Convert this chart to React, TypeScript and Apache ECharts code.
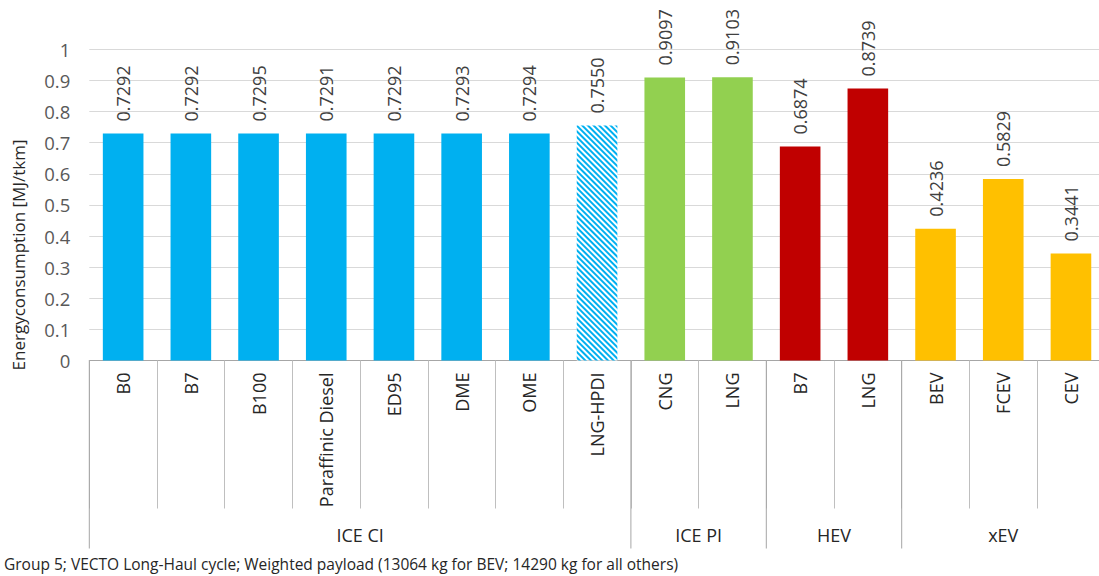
import React, { useEffect, useRef } from "react";
import * as echarts from "echarts";

const categories = [
  "B0", "B7", "B100", "Paraffinic Diesel", "ED95", "DME", "OME", "LNG-HPDI",
  "CNG", "LNG", "B7", "LNG", "BEV", "FCEV", "CEV",
];
const values = [
  0.7292, 0.7292, 0.7295, 0.7291, 0.7292, 0.7293, 0.7294, 0.755,
  0.9097, 0.9103, 0.6874, 0.8739, 0.4236, 0.5829, 0.3441,
];
const groupNames = ["ICE CI", "ICE PI", "HEV", "xEV"];
const groupStart = [0, 8, 10, 12];
const groupEnd = [7, 9, 11, 14];
const groupColors = ["#00B0F0", "#92D050", "#C00000", "#FFC000"];
const hatchedIndex = 7;
const yTicks = { min: 0, max: 1, interval: 0.1 };
const yTitle = "Energyconsumption [MJ/tkm]";
const footnote =
  "Group 5; VECTO Long-Haul cycle; Weighted payload (13064 kg for BEV; 14290 kg for all others)";

const FONT = "'Open Sans', 'Noto Sans', sans-serif";

function groupOf(i: number) {
  for (let g = 0; g < groupStart.length; g++) {
    if (i >= groupStart[g] && i <= groupEnd[g]) return g;
  }
  return 0;
}

export default function App() {
  const ref = useRef<HTMLDivElement>(null);
  useEffect(() => {
    if (!ref.current) return;
    const chart = echarts.init(ref.current, null, { renderer: "svg" });
    const barData = values.map((v, i) => {
      const c = groupColors[groupOf(i)];
      if (i === hatchedIndex) {
        return {
          value: v,
          itemStyle: {
            color: "#ffffff",
            decal: {
              symbol: "rect",
              symbolSize: 1,
              dashArrayX: [1, 0],
              dashArrayY: [2, 2],
              rotation: Math.PI / 4,
              color: c,
            },
          },
        };
      }
      return { value: v, itemStyle: { color: c } };
    });
    const groupData = groupNames.map((n, g) => ({
      name: n,
      value: [groupStart[g], 0, groupEnd[g]],
    }));
    chart.setOption({
      animation: false,
      graphic: [
        {
          type: "text",
          x: 18,
          y: 255,
          rotation: Math.PI / 2,
          style: {
            text: yTitle,
            fontFamily: FONT,
            fontSize: 17,
            fill: "#262626",
            align: "center",
            verticalAlign: "middle",
          },
        },
        {
          type: "text",
          x: 4,
          y: 564,
          style: {
            text: footnote,
            fontFamily: FONT,
            fontSize: 15.5,
            fill: "#262626",
            align: "left",
            verticalAlign: "middle",
          },
        },
      ],
      grid: {
        left: 89.3,
        right: -5.8,
        top: 49.3,
        bottom: 215.5,
        containLabel: false,
        outerBoundsMode: "none",
      },
      xAxis: {
        type: "category",
        data: categories,
        axisLine: { show: true, lineStyle: { color: "#A6A6A6", width: 1 } },
        axisTick: {
          show: true,
          interval: 0,
          length: 148,
          lineStyle: { color: "#BFBFBF", width: 1 },
        },
        axisLabel: {
          interval: 0,
          rotate: 90,
          margin: 12,
          fontFamily: FONT,
          fontSize: 18,
          color: "#262626",
        },
        splitLine: { show: false },
      },
      yAxis: {
        type: "value",
        min: yTicks.min,
        max: yTicks.max,
        interval: yTicks.interval,
        axisLine: { show: false },
        axisTick: { show: false },
        axisLabel: {
          margin: 19,
          fontFamily: FONT,
          fontSize: 18.5,
          color: "#595959",
        },
        splitLine: { show: true, lineStyle: { color: "#D9D9D9", width: 1 } },
      },
      series: [
        {
          type: "bar",
          data: barData,
          barWidth: "60%",
          label: {
            show: true,
            position: "top",
            rotate: 90,
            align: "left",
            verticalAlign: "middle",
            distance: 12,
            fontFamily: FONT,
            fontSize: 18,
            color: "#404040",
            formatter: (p: any) => Number(p.value).toFixed(4),
          },
        },
        {
          type: "custom",
          clip: false,
          silent: true,
          data: groupData,
          encode: { x: 0, y: 1 },
          renderItem: (params: any, api: any) => {
            const s = api.value(0);
            const e = api.value(2);
            const bw = api.size([1, 0])[0];
            const p0 = api.coord([s, 0]);
            const p1 = api.coord([e, 0]);
            const left = p0[0] - bw / 2;
            const right = p1[0] + bw / 2;
            const y0 = p0[1];
            return {
              type: "group",
              children: [
                {
                  type: "line",
                  shape: { x1: left, y1: y0, x2: left, y2: y0 + 188 },
                  style: { stroke: "#A6A6A6", lineWidth: 1 },
                },
                {
                  type: "text",
                  x: (left + right) / 2,
                  y: y0 + 174,
                  style: {
                    text: groupNames[params.dataIndex],
                    fontFamily: FONT,
                    fontSize: 18,
                    fill: "#262626",
                    align: "center",
                    verticalAlign: "middle",
                  },
                },
              ],
            };
          },
        },
      ],
    });
    return () => chart.dispose();
  }, []);
  return (
    <div
      ref={ref}
      style={{ position: "absolute", left: 0, top: 0, width: 1099, height: 576, background: "#fff" }}
    />
  );
}
